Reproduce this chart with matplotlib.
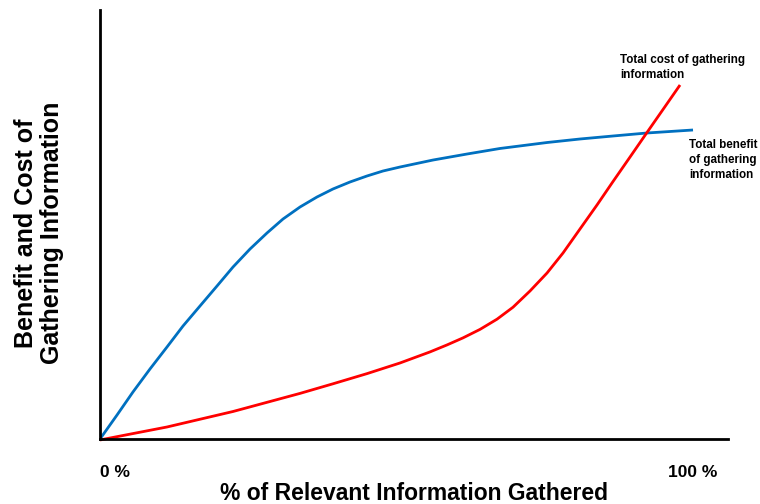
import numpy as np
import matplotlib.pyplot as plt

plt.rcParams['font.family'] = ['Liberation Sans', 'DejaVu Sans']

# % of relevant information gathered vs. benefit / cost (arbitrary units)
benefit_x = [0, 2.87, 5.56, 8.43, 11.30, 14.00, 16.86, 19.73, 22.43, 25.30, 28.16, 30.86,
             33.73, 36.59, 39.29, 42.16, 45.03, 47.72, 50.59, 56.16, 61.89, 67.45, 75.38,
             80.94, 86.51, 92.24, 100]
benefit_y = [0, 5.59, 10.96, 16.32, 21.45, 26.34, 31.00, 35.66, 40.09, 44.29, 48.02, 51.28,
             54.08, 56.41, 58.28, 59.91, 61.31, 62.47, 63.40, 65.03, 66.43, 67.72, 69.11,
             69.93, 70.63, 71.33, 72.03]

cost_x = [0, 1.69, 11.30, 22.43, 33.73, 39.29, 45.03, 50.59, 55.65, 58.52, 61.21, 64.08,
          66.95, 69.65, 72.51, 75.38, 78.08, 80.94, 83.81, 86.51, 89.38, 92.24, 94.94, 97.81]
cost_y = [-0.23, 0.23, 2.80, 6.41, 10.63, 12.87, 15.24, 17.72, 20.30, 21.93, 23.57, 25.55,
          27.93, 30.72, 34.50, 38.69, 43.36, 48.95, 54.55, 60.02, 65.73, 71.45, 76.81, 82.52]

fig = plt.figure(figsize=(7.6, 5.04), dpi=100)
ax = fig.add_axes([100 / 760, 65 / 504, 628 / 760, 429 / 504])

ax.plot(benefit_x, benefit_y, color='#0070C0', lw=2.0, solid_capstyle='butt',
        solid_joinstyle='round')
ax.plot(cost_x, cost_y, color='#FF0000', lw=2.0, solid_capstyle='butt',
        solid_joinstyle='round', clip_on=False)

ax.set_xlim(0, 105.9)
ax.set_ylim(0, 100)

for side in ['top', 'right']:
    ax.spines[side].set_visible(False)
for side in ['left', 'bottom']:
    ax.spines[side].set_linewidth(2.0)
    ax.spines[side].set_color('black')

ax.set_xticks([0, 100])
ax.set_xticklabels(['0 %', '100 %'], fontsize=12.5, fontweight='bold')
ax.tick_params(axis='x', length=0, pad=19)
ax.get_xticklabels()[0].set_horizontalalignment('left')
ax.set_yticks([])

ax.set_xlabel('% of Relevant Information Gathered', fontsize=16.5, fontweight='bold',
              va='center')
ax.xaxis.set_label_coords(0.5, (439 - 494) / 429)

fig.text(39 / 760, 1 - 233 / 504, 'Benefit and Cost of\nGathering Information',
         fontsize=18, fontweight='bold', rotation=90, ha='center', va='center',
         linespacing=1.1)

ax.text(87.7, 89.7, 'Total cost of gathering\ninformation', fontsize=8.4,
        fontweight='bold', va='top', ha='left', linespacing=1.3)
ax.text(99.3, 69.9, 'Total benefit\nof gathering\ninformation', fontsize=8.4,
        fontweight='bold', va='top', ha='left', linespacing=1.3)

fig.savefig('out.png', dpi=100)
